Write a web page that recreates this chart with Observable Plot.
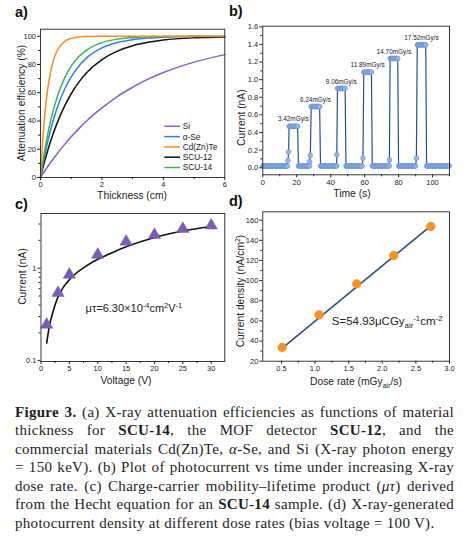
<!DOCTYPE html>
<html><head><meta charset="utf-8">
<script src="https://cdn.jsdelivr.net/npm/d3@7"></script>
<script src="https://cdn.jsdelivr.net/npm/@observablehq/plot@0.6"></script>
<style>
html,body{margin:0;padding:0;background:#fff;}
#fig{position:relative;width:469px;height:537px;overflow:hidden;background:#fff;font-family:"Liberation Sans",Arial,sans-serif;}
.panel{position:absolute;}
.panel svg{display:block;overflow:visible;max-width:none;}
.plet{position:absolute;font-family:"Liberation Sans",Arial,sans-serif;font-weight:bold;font-size:14.5px;line-height:15px;color:#111;}
#cap{position:absolute;left:15px;top:402.5px;width:439px;font-family:"Liberation Serif","Times New Roman",serif;font-size:15px;line-height:18.5px;color:#1e1e1e;letter-spacing:0.3px;}
#cap div{white-space:nowrap;text-align:justify;text-align-last:justify;}
#cap div.last{text-align:left;text-align-last:left;}
</style>
</head><body>
<div id="fig">
  <div class="panel" id="pa" style="left:0;top:0;width:232px;height:200px"></div>
  <div class="panel" id="pb" style="left:232px;top:0;width:237px;height:200px"></div>
  <div class="panel" id="pc" style="left:0;top:200px;width:232px;height:200px"></div>
  <div class="panel" id="pd" style="left:232px;top:200px;width:237px;height:200px"></div>
  <div class="plet" style="left:15px;top:5px">a)</div>
  <div class="plet" style="left:229px;top:4px">b)</div>
  <div class="plet" style="left:15px;top:197px">c)</div>
  <div class="plet" style="left:229px;top:194px">d)</div>
  <div id="cap">
    <div><b>Figure 3.</b> (a) X-ray attenuation efficiencies as functions of material</div>
    <div>thickness for <b>SCU-14</b>, the MOF detector <b>SCU-12</b>, and the</div>
    <div>commercial materials Cd(Zn)Te, <i>α</i>-Se, and Si (X-ray photon energy</div>
    <div>= 150 keV). (b) Plot of photocurrent vs time under increasing X-ray</div>
    <div>dose rate. (c) Charge-carrier mobility–lifetime product (<i>μτ</i>) derived</div>
    <div>from the Hecht equation for an <b>SCU-14</b> sample. (d) X-ray-generated</div>
    <div class="last">photocurrent density at different dose rates (bias voltage = 100 V).</div>
  </div>
</div>
<script>
// ---------- Panel a data ----------
const thickness = [0,0.1,0.2,0.3,0.4,0.5,0.6,0.8,1.0,1.25,1.5,2,2.5,3,3.5,4,5,6];
const effSi    = [0,3.3,6.6,9.7,12.7,15.6,18.5,23.8,28.8,34.6,40.0,49.3,57.3,63.9,69.6,74.3,81.7,87.0];
const effASe   = [0,11.8,22.1,31.3,39.3,46.5,52.8,63.2,71.3,79.0,84.7,91.8,95.6,97.6,98.7,99.3,99.8,99.9];
const effCZT   = [0,34.3,56.8,71.6,81.4,87.8,92.0,96.5,98.5,99.5,99.8,100,100,100,100,100,100,100];
const effSCU12 = [0,8.6,16.5,23.7,30.2,36.2,41.7,51.3,59.3,67.5,74.1,83.5,89.5,93.3,95.7,97.3,98.9,99.5];
const effSCU14 = [0,14.4,26.7,37.2,46.2,53.9,60.5,71.1,78.8,85.6,90.2,95.5,97.9,99.0,99.6,99.8,100,100];
const materials = ["Si","α-Se","Cd(Zn)Te","SCU-12","SCU-14"];
const matSeries = [effSi, effASe, effCZT, effSCU12, effSCU14];
const matColors = ["#8560c4","#2f7cf0","#ff8a1e","#111111","#3cb44b"];
const drawOrder = [0,3,1,4,2];

// ---------- Panel b data ----------
const pulseOn    = [15.5, 28.5, 44.0, 59.5, 75.0, 91.0];
const pulseOff   = [20.5, 33.5, 48.5, 64.0, 79.5, 96.0];
const pulseLevel = [0.47, 0.695, 0.90, 1.085, 1.24, 1.395];
const rampTimes  = [[14.8,15.2],[27.6,28.0],[43.6],[59.0],[74.6],[90.5]];
const rampValues = [[0.08,0.18],[0.07,0.14],[0.15],[0.11],[0.09],[0.11]];
const baseCurrent = 0.02;
const sampleStep = 0.5;
const doseLabels = ["3.42mGy/s","6.24mGy/s","9.06mGy/s","11.89mGy/s","14.70mGy/s","17.52mGy/s"];

// ---------- Panel c data ----------
const voltage  = [1,3,5,10,15,20,25,30];
const currentC = [0.245,0.54,0.85,1.40,1.94,2.29,2.66,2.89];
const fitV     = [1,1.5,2,3,4,5,6,8,10,12,15,20,25,30];
const fitI     = [0.155,0.24,0.32,0.49,0.63,0.75,0.86,1.06,1.25,1.42,1.70,2.15,2.52,2.84];

// ---------- Panel d data ----------
const doseRate = [0.51,1.06,1.62,2.17,2.72];
const currDens = [33.6,66.0,96.8,124.9,153.7];
const fitDose  = [0.53,2.74];
const fitDens  = [34.0,155.4];

const FONT = '"Liberation Sans", Arial, Helvetica, sans-serif';
const INK = "#222";
const style = () => ({fontFamily: FONT, fontSize: "7.5px", color: INK, background: "transparent", overflow: "visible"});

function rich(el, segs, size) {
  const t = d3.select(el); t.text(null);
  let cur = 0;
  for (const [s, k] of segs) {
    const target = k === "sup" ? -0.38*size : k === "sub" ? 0.24*size : 0;
    const ts = t.append("tspan").text(s);
    if (Math.abs(target - cur) > 1e-6) ts.attr("dy", (target - cur).toFixed(2));
    ts.attr("font-size", (k === "sup" || k === "sub") ? (0.68*size).toFixed(2) : size);
    cur = target;
  }
}
function label(svg, x, y, segs, opts = {}) {
  const size = opts.size || 10.3;
  const t = d3.select(svg).append("text")
    .attr("text-anchor", opts.anchor || "middle")
    .attr("font-family", FONT).attr("font-size", size).attr("fill", INK)
    .attr("transform", `translate(${x},${y})${opts.rotate ? " rotate(-90)" : ""}`)
    .attr("y", (0.35*size).toFixed(2));
  rich(t.node(), segs, size);
}
function replaceText(svg, str, segs, size) {
  d3.select(svg).selectAll("text").filter(function(){ return this.textContent === str; })
    .each(function(){ rich(this, segs, size); });
}
const intFmt = d3.format("d");

// ================= Panel a =================
const svgA = Plot.plot({
  width: 232, height: 200,
  marginLeft: 40, marginRight: 7.7, marginTop: 28.7, marginBottom: 23,
  x: {domain: [0, 6]}, y: {domain: [0, 105]},
  style: style(),
  marks: [
    ...drawOrder.map(i => Plot.line(thickness, {x: thickness, y: matSeries[i], stroke: matColors[i], strokeWidth: 1.5, curve: "monotone-x"})),
    Plot.frame({stroke: INK, strokeWidth: 0.9}),
    Plot.axisX({ticks: [0,2,4,6], tickSize: 3, tickPadding: 1.5, tickFormat: intFmt, label: null}),
    Plot.axisX({ticks: [1,3,5], tickSize: 2, tickFormat: () => "", label: null}),
    Plot.axisY({ticks: [0,20,40,60,80,100], tickSize: 3, tickPadding: 1.5, tickFormat: intFmt, label: null}),
    Plot.axisY({ticks: [10,30,50,70,90], tickSize: 2, tickFormat: () => "", label: null})
  ]
});
document.getElementById("pa").append(svgA);
label(svgA, 21.5, 103, [["Attenuation efficiency (%)"]], {rotate: true});
label(svgA, 132, 195, [["Thickness (cm)"]]);
// legend
{
  const g = d3.select(svgA).append("g").attr("font-family", FONT).attr("font-size", 8.3).attr("fill", INK).attr("text-anchor", "start");
  materials.forEach((m, i) => {
    const y = 126.3 + i*10.3;
    g.append("line").attr("x1", 164.3).attr("x2", 180).attr("y1", y).attr("y2", y)
      .attr("stroke", matColors[i]).attr("stroke-width", 1.5);
    g.append("text").attr("x", 182.7).attr("y", y + 2.9).attr("text-anchor", "start").text(m);
  });
}

// ================= Panel b =================
const rowsB = [];
{
  const tMax = 110;
  for (let k = 0; k * sampleStep <= tMax + 1e-9; k++) {
    const t = k * sampleStep;
    let v = baseCurrent, skip = false;
    pulseOn.forEach((on, p) => {
      if (t >= on && t <= pulseOff[p]) v = pulseLevel[p];
      else if (t >= rampTimes[p][0] && t < on) skip = true;
    });
    if (!skip) rowsB.push({t, i: v});
  }
  rampTimes.forEach((ts, p) => ts.forEach((t, j) => rowsB.push({t, i: rampValues[p][j]})));
  rowsB.sort((a, b) => a.t - b.t);
}
const labelRowsB = doseLabels.map((s, p) => ({s, t: (pulseOn[p] + pulseOff[p]) / 2, i: pulseLevel[p]}));
const svgB = Plot.plot({
  width: 237, height: 200,
  marginLeft: 30.3, marginRight: 20, marginTop: 25.7, marginBottom: 25.7,
  x: {domain: [0, 110]}, y: {domain: [-0.08, 1.607]},
  style: style(),
  marks: [
    Plot.line(rowsB, {x: "t", y: "i", stroke: "#2c4f8c", strokeWidth: 1.2}),
    Plot.dot(rowsB, {x: "t", y: "i", r: 2.4, fill: "#92b5ea", stroke: "#5f8bd0", strokeWidth: 0.5}),
    Plot.text(labelRowsB, {x: "t", y: "i", text: "s", dy: -7, fontSize: 6.4, fill: INK}),
    Plot.frame({stroke: INK, strokeWidth: 0.9}),
    Plot.axisX({ticks: [0,20,40,60,80,100], tickSize: 3, tickPadding: 1.5, tickFormat: intFmt, label: null}),
    Plot.axisX({ticks: [10,30,50,70,90,110], tickSize: 2, tickFormat: () => "", label: null}),
    Plot.axisY({ticks: [0,0.2,0.4,0.6,0.8,1.0,1.2,1.4,1.6], tickSize: 3, tickPadding: 1.5, tickFormat: d3.format(".1f"), label: null}),
    Plot.axisY({ticks: [0.1,0.3,0.5,0.7,0.9,1.1,1.3,1.5], tickSize: 2, tickFormat: () => "", label: null})
  ]
});
document.getElementById("pb").append(svgB);
label(svgB, 9, 117.7, [["Current (nA)"]], {rotate: true});
label(svgB, 120, 193.3, [["Time (s)"]]);

// ================= Panel c =================
const annoC = "μτ=6.30×10-4cm2V-1";
const svgC = Plot.plot({
  width: 232, height: 200,
  marginLeft: 40.5, marginRight: 7.7, marginTop: 13, marginBottom: 39,
  x: {domain: [0, 32.4]}, y: {type: "log", domain: [0.098, 3.9]},
  style: style(),
  marks: [
    Plot.line(fitV, {x: fitV, y: fitI, stroke: "#111", strokeWidth: 1.6, curve: "monotone-x"}),
    Plot.dot(voltage, {x: voltage, y: currentC, symbol: "triangle", r: 4.6, fill: "#7b5cb8", stroke: "#6d4fae", strokeWidth: 0.4}),
    Plot.text([annoC], {frameAnchor: "middle", dx: 1, dy: 21, text: d => d, fontSize: 11, fill: INK}),
    Plot.frame({stroke: INK, strokeWidth: 0.9}),
    Plot.axisX({ticks: [0,5,10,15,20,25,30], tickSize: 3, tickPadding: 1.5, tickFormat: intFmt, label: null}),
    Plot.axisX({ticks: [2.5,7.5,12.5,17.5,22.5,27.5], tickSize: 2, tickFormat: () => "", label: null}),
    Plot.axisY({ticks: [0.1, 1], tickSize: 3, tickPadding: 1.5, tickFormat: d => d < 0.5 ? "0.1" : "1", label: null}),
    Plot.axisY({ticks: [0.2,0.3,0.4,0.5,0.6,0.7,0.8,0.9,2,3], tickSize: 2, tickFormat: () => "", label: null})
  ]
});
document.getElementById("pc").append(svgC);
replaceText(svgC, annoC, [["μτ=6.30×10"],["-4","sup"],["cm"],["2","sup"],["V"],["-1","sup"]], 11);
label(svgC, 22, 76.5, [["Current (nA)"]], {rotate: true});
label(svgC, 126, 180.7, [["Voltage (V)"]]);

// ================= Panel d =================
const annoD = "S=54.93μCGyair-1cm-2";
const svgD = Plot.plot({
  width: 237, height: 200,
  marginLeft: 30.3, marginRight: 20, marginTop: 11.3, marginBottom: 39.3,
  x: {domain: [0.222, 3.0]}, y: {domain: [20, 168.3]},
  style: style(),
  marks: [
    Plot.line(fitDose, {x: fitDose, y: fitDens, stroke: "#2c4f7c", strokeWidth: 1.6}),
    Plot.dot(doseRate, {x: doseRate, y: currDens, r: 4.4, fill: "#f7931e", stroke: "#f08a10", strokeWidth: 0.4}),
    Plot.text([annoD], {frameAnchor: "middle", dx: 31, dy: 34.7, text: d => d, fontSize: 11.5, fill: INK}),
    Plot.frame({stroke: INK, strokeWidth: 0.9}),
    Plot.axisX({ticks: [0.5,1.0,1.5,2.0,2.5,3.0], tickSize: 3, tickPadding: 1.5, tickFormat: d3.format(".1f"), label: null}),
    Plot.axisX({ticks: [0.75,1.25,1.75,2.25,2.75], tickSize: 2, tickFormat: () => "", label: null}),
    Plot.axisY({ticks: [20,40,60,80,100,120,140,160], tickSize: 3, tickPadding: 1.5, tickFormat: intFmt, label: null}),
    Plot.axisY({ticks: [30,50,70,90,110,130,150], tickSize: 2, tickFormat: () => "", label: null})
  ]
});
document.getElementById("pd").append(svgD);
replaceText(svgD, annoD, [["S=54.93μCGy"],["air","sub"],["-1","sup"],["cm"],["-2","sup"]], 11.5);
label(svgD, 8, 91, [["Current density (nA/cm"],["2","sup"],[")"]], {rotate: true});
label(svgD, 124, 181.7, [["Dose rate (mGy"],["air","sub"],["/s)"]]);
</script>
</body></html>
